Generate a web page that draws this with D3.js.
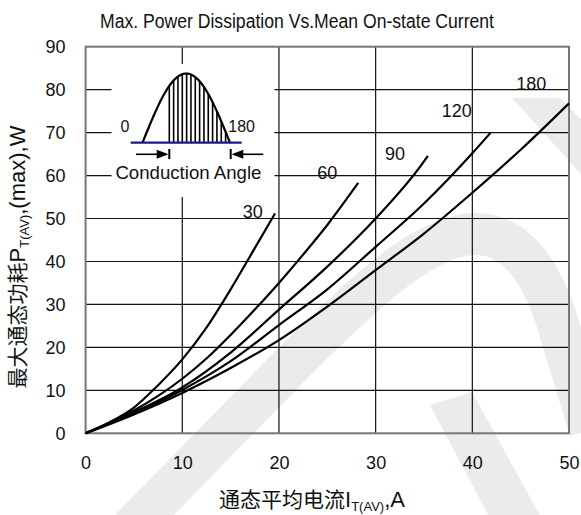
<!DOCTYPE html>
<html>
<head>
<meta charset="utf-8">
<script src="https://cdn.jsdelivr.net/npm/d3@7"></script>
<style>
  body { margin: 0; background: #fff; }
  svg { display: block; }
</style>
</head>
<body>
<svg id="chart" width="581" height="515"></svg>
<script>
// Conduction angles (degrees) and the power curve for each one.
const angles = ["30", "60", "90", "120", "180"];

const current30 = [0, 2.5, 5, 7.5, 10, 12.5, 15, 17.5, 19.6];
const power30   = [0, 2.6, 6.0, 11.2, 17.2, 24.6, 33.5, 43.1, 51.2];

const current60 = [0, 2.5, 5, 7.5, 10, 12.5, 15, 17.5, 20, 22.5, 25, 28.2];
const power60   = [0, 2.5, 5.3, 8.7, 12.7, 17.4, 22.9, 28.8, 35.0, 41.6, 48.5, 58.3];

const current90 = [0, 5, 10, 15, 20, 25, 30, 35, 35.4];
const power90   = [0, 4.9, 10.7, 18.8, 28.8, 38.8, 50.0, 63.3, 64.6];

const current120 = [0, 5, 10, 15, 20, 25, 30, 35, 40, 41.9];
const power120   = [0, 4.7, 10.1, 16.8, 25.2, 33.5, 43.4, 53.5, 65.2, 70.0];

const current180 = [0, 5, 10, 15, 20, 25, 30, 35, 40, 45, 50];
const power180   = [0, 4.4, 9.4, 15.2, 21.7, 29.5, 38.0, 46.5, 56.0, 66.0, 76.8];

const xTicks = [0, 10, 20, 30, 40, 50];
const yTicks = [0, 10, 20, 30, 40, 50, 60, 70, 80, 90];

const titleText = "Max. Power Dissipation Vs.Mean On-state Current";

// Series assembled for drawing
const seriesList = [
  { angle: angles[0], I: current30,  P: power30 },
  { angle: angles[1], I: current60,  P: power60 },
  { angle: angles[2], I: current90,  P: power90 },
  { angle: angles[3], I: current120, P: power120 },
  { angle: angles[4], I: current180, P: power180 }
].map(s => ({ angle: s.angle, pts: s.I.map((v, i) => [v, s.P[i]]) }));

// Where each angle label sits, in data units (text baseline centre)
const labelAnchor = {
  "30":  [17.3, 50.1],
  "60":  [25.0, 59.3],
  "90":  [32.0, 63.7],
  "120": [38.4, 73.6],
  "180": [46.1, 80.0]
};

const latin = "'Liberation Sans', Arial, Helvetica, sans-serif";
const cjk = "'Noto Sans CJK SC', 'Noto Sans CJK JP', sans-serif";

const svg = d3.select("#chart");
const plotL = 85.6, plotR = 569, plotT = 46.7, plotB = 433.3;

const x = d3.scaleLinear().domain([0, 50]).range([plotL, plotR]);
const y = d3.scaleLinear().domain([0, 90]).range([plotB, plotT]);

// Pale grey background emblem
const emblem = svg.append("g").attr("fill", "none").attr("stroke", "#ebebeb");
emblem.append("path")
  .attr("d", "M120,540 L292,364 C372,284 430,232 478,234 C516,236 540,270 556,318 L590,430")
  .attr("stroke-width", 42).attr("stroke-linejoin", "round");
emblem.append("path")
  .attr("d", "M512,98 L560,98 L600,138 L600,195 Z")
  .attr("fill", "#ebebeb").attr("stroke", "none");
emblem.append("path")
  .attr("d", "M430,405 L472,392 L548,530 L496,530 Z")
  .attr("fill", "#ebebeb").attr("stroke", "none");

// Grid
const grid = svg.append("g").attr("stroke", "#111").attr("stroke-width", 1.2);
grid.selectAll("line.v").data(xTicks.slice(1, -1)).join("line")
  .attr("x1", d => x(d)).attr("x2", d => x(d))
  .attr("y1", plotT).attr("y2", plotB);
grid.selectAll("line.h").data(yTicks.slice(1, -1)).join("line")
  .attr("x1", plotL).attr("x2", plotR)
  .attr("y1", d => y(d)).attr("y2", d => y(d));

// Plot frame
svg.append("rect")
  .attr("x", plotL).attr("y", plotT)
  .attr("width", plotR - plotL).attr("height", plotB - plotT)
  .attr("fill", "none").attr("stroke", "#777").attr("stroke-width", 2);

// Axes (labels only; frame and grid provide the lines)
const xAxis = d3.axisBottom(x).tickValues(xTicks).tickSize(0).tickPadding(0);
const gx = svg.append("g").attr("transform", `translate(0,${plotB + 23})`).call(xAxis);
gx.select(".domain").remove();
gx.selectAll("text").attr("font-family", latin).attr("font-size", 18).attr("fill", "#111")
  .attr("dy", "0.71em");

const yAxis = d3.axisLeft(y).tickValues(yTicks).tickSize(0).tickPadding(0);
const gy = svg.append("g").attr("transform", `translate(${plotL - 20},0)`).call(yAxis);
gy.select(".domain").remove();
gy.selectAll("text").attr("font-family", latin).attr("font-size", 18).attr("fill", "#111");

// Curves
const line = d3.line().x(d => x(d[0])).y(d => y(d[1])).curve(d3.curveMonotoneX);
svg.append("g").selectAll("path").data(seriesList).join("path")
  .attr("d", d => line(d.pts))
  .attr("fill", "none").attr("stroke", "#000").attr("stroke-width", 2.2)
  .attr("stroke-linejoin", "round");

// Angle labels
svg.append("g").selectAll("text").data(seriesList).join("text")
  .attr("x", d => x(labelAnchor[d.angle][0]))
  .attr("y", d => y(labelAnchor[d.angle][1]))
  .attr("text-anchor", "middle")
  .attr("font-family", latin).attr("font-size", 18).attr("fill", "#111")
  .text(d => d.angle);

// Conduction-angle inset
const inset = svg.append("g");
inset.append("rect").attr("x", 111.5).attr("y", 64).attr("width", 163).attr("height", 133)
  .attr("fill", "#fff");

const waveX0 = 142.5, waveX1 = 230, waveBase = 142.7, waveAmp = 69.2;
const waveY = px => waveBase - waveAmp * Math.sin(Math.PI * (px - waveX0) / (waveX1 - waveX0));
const hatchX = d3.range(14).map(k => 169.3 + k * 4.33);
inset.append("g").attr("stroke", "#000").attr("stroke-width", 1.6)
  .selectAll("line").data(hatchX).join("line")
  .attr("x1", d => d).attr("x2", d => d)
  .attr("y1", waveBase).attr("y2", d => waveY(d));

const wavePts = d3.range(0, 1.0001, 0.02).map(t => [waveX0 + t * (waveX1 - waveX0), 0]);
inset.append("path")
  .attr("d", d3.line().x(d => d[0]).y(d => waveY(d[0]))(wavePts))
  .attr("fill", "none").attr("stroke", "#000").attr("stroke-width", 2.2);

inset.append("line").attr("x1", 130.7).attr("x2", 241.7).attr("y1", waveBase).attr("y2", waveBase)
  .attr("stroke", "#1a1a8a").attr("stroke-width", 2.2);

// Arrows marking the conduction interval
const arrowY = 154.3;
inset.append("line").attr("x1", 136).attr("x2", 166).attr("y1", arrowY).attr("y2", arrowY)
  .attr("stroke", "#000").attr("stroke-width", 1.6);
inset.append("path").attr("d", `M156.7,${arrowY - 4.5}L168.5,${arrowY}L156.7,${arrowY + 4.5}Z`).attr("fill", "#000");
inset.append("line").attr("x1", 169.3).attr("x2", 169.3).attr("y1", 149).attr("y2", 159)
  .attr("stroke", "#000").attr("stroke-width", 2);

inset.append("line").attr("x1", 234).attr("x2", 263.3).attr("y1", arrowY).attr("y2", arrowY)
  .attr("stroke", "#000").attr("stroke-width", 1.6);
inset.append("path").attr("d", `M243.3,${arrowY - 4.5}L231.6,${arrowY}L243.3,${arrowY + 4.5}Z`).attr("fill", "#000");
inset.append("line").attr("x1", 230.7).attr("x2", 230.7).attr("y1", 149).attr("y2", 159)
  .attr("stroke", "#000").attr("stroke-width", 2);

inset.append("text").attr("x", 125).attr("y", 132.3).attr("text-anchor", "middle")
  .attr("font-family", latin).attr("font-size", 16).attr("fill", "#111").text("0");
inset.append("text").attr("x", 228.3).attr("y", 132.3)
  .attr("font-family", latin).attr("font-size", 16).attr("fill", "#111").text("180");
inset.append("text").attr("x", 188.4).attr("y", 178.5).attr("text-anchor", "middle")
  .attr("font-family", latin).attr("font-size", 18.5).attr("fill", "#111")
  .attr("textLength", 146).attr("lengthAdjust", "spacingAndGlyphs")
  .text("Conduction Angle");

// Title (condensed)
svg.append("text").attr("x", 297).attr("y", 27.5).attr("text-anchor", "middle")
  .attr("font-family", latin).attr("font-size", 20).attr("fill", "#111")
  .attr("textLength", 394).attr("lengthAdjust", "spacingAndGlyphs")
  .text(titleText);

// X axis title: 通态平均电流 I_T(AV), A
const xt = svg.append("text").attr("x", 312).attr("y", 507).attr("text-anchor", "middle").attr("fill", "#111");
xt.append("tspan").attr("font-family", cjk).attr("font-size", 21).text("通态平均电流");
xt.append("tspan").attr("font-family", latin).attr("font-size", 22).text("I");
xt.append("tspan").attr("font-family", latin).attr("font-size", 13).attr("dy", 4).text("T(AV)");
xt.append("tspan").attr("font-family", latin).attr("font-size", 22).attr("dy", -4).text(",A");

// Y axis title: 最大通态功耗 P_T(AV),(max), W
const yt = svg.append("text").attr("transform", "translate(25,257) rotate(-90)")
  .attr("text-anchor", "middle").attr("fill", "#111");
yt.append("tspan").attr("font-family", cjk).attr("font-size", 21).text("最大通态功耗");
yt.append("tspan").attr("font-family", latin).attr("font-size", 22).text("P");
yt.append("tspan").attr("font-family", latin).attr("font-size", 13).attr("dy", 4).text("T(AV)");
yt.append("tspan").attr("font-family", latin).attr("font-size", 22).attr("dy", -4).text(",(max),W");
</script>
</body>
</html>
